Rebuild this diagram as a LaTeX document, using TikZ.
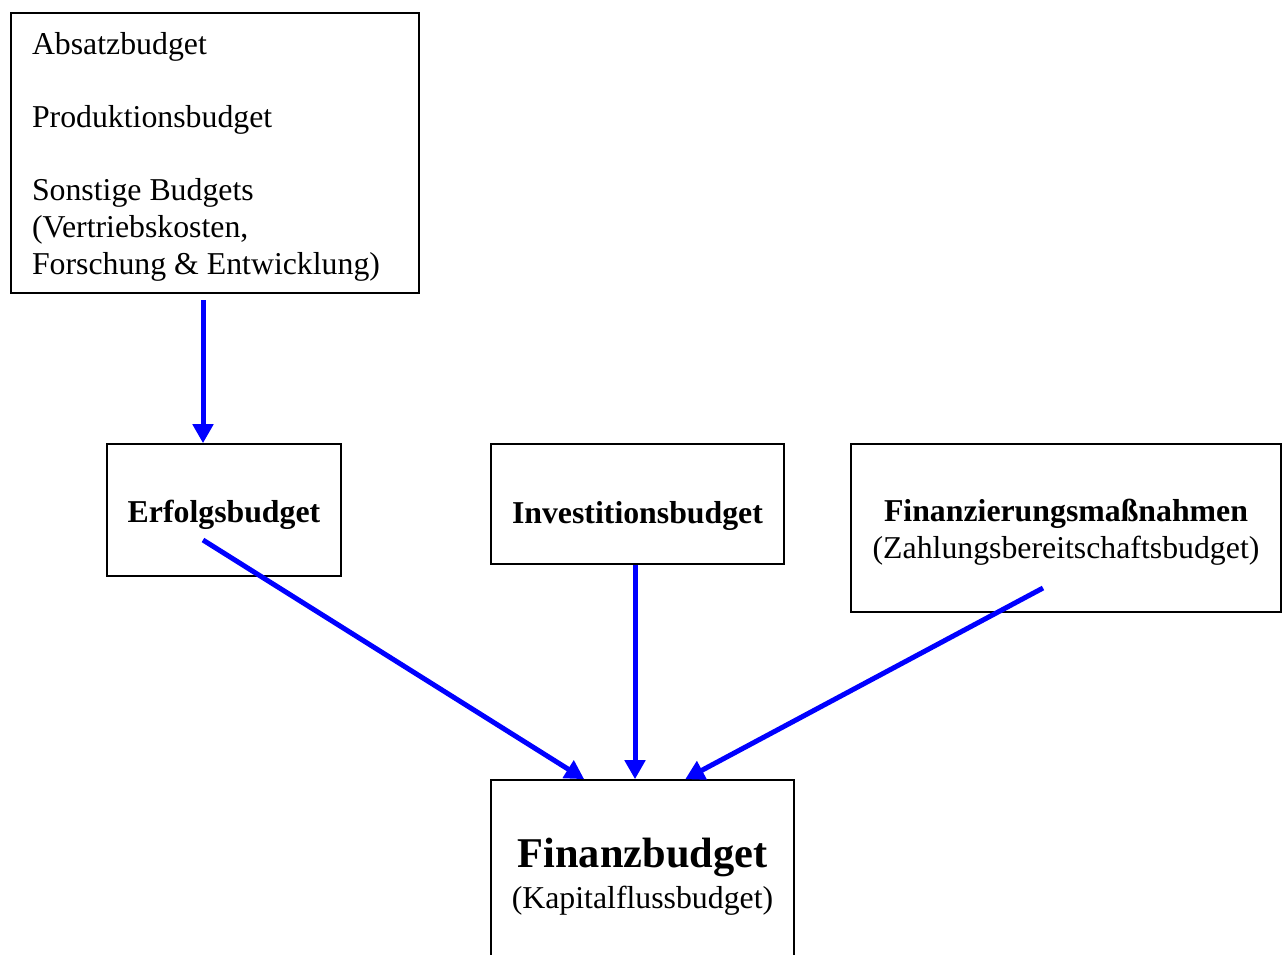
\documentclass[tikz,border=0pt]{standalone}
\usepackage{fontspec}
\setmainfont{Liberation Serif}
\usetikzlibrary{arrows.meta,calc}
\definecolor{arrowblue}{RGB}{0,0,255}
\tikzset{
  budgetbox/.style={draw=black, line width=1.6pt, rectangle, inner sep=0pt,
    font=\fontsize{31.8}{36.6}\selectfont},
  flow/.style={draw=arrowblue, line width=5pt,
    -{Triangle[length=19pt,width=20pt]}, shorten >=0pt}
}
% place a text block with its first baseline at a given offset from the box centre
\newcommand{\atbase}[2]{\raisebox{#1}[0pt][0pt]{#2}}
\begin{document}
\begin{tikzpicture}[x=1pt,y=-1pt]
\useasboundingbox (0,0) rectangle (1283,954);
\clip (0,0) rectangle (1283,954);

% source budgets
\node[budgetbox, minimum width=408pt, minimum height=280pt] (src) at (215,153)
  {\atbase{98.5pt}{\parbox[t]{366pt}{\raggedright
    Absatzbudget\\[36.6pt] Produktionsbudget\\[36.6pt] Sonstige Budgets\\
    (Vertriebskosten,\\ Forschung \& Entwicklung)}}};

% middle row
\node[budgetbox, minimum width=234pt, minimum height=132pt] (erf) at (224,510)
  {\atbase{-12.3pt}{\textbf{Erfolgsbudget}}};
\node[budgetbox, minimum width=293pt, minimum height=120pt] (inv) at (637.5,504)
  {\atbase{-19pt}{\textbf{Investitionsbudget}}};
\node[budgetbox, minimum width=430pt, minimum height=168pt] (fm) at (1066,528)
  {\atbase{6.5pt}{\begin{tabular}[t]{@{}c@{}}\textbf{Finanzierungsmaßnahmen}\\(Zahlungsbereitschaftsbudget)\end{tabular}}};

% target budget
\node[budgetbox, minimum width=303pt, minimum height=194pt, align=center] (fin) at (642.5,877)
  {{\fontsize{42.4}{44}\selectfont\textbf{Finanzbudget}}\\[4pt](Kapitalflussbudget)};

% connector start points inside / below the boxes
\coordinate (s1) at (203,300);
\coordinate (s2) at (203,540);
\coordinate (s3) at (635,565);
\coordinate (s4) at (1043,588);
\coordinate (t2) at ($(fin.north west)+(94,0)$);
\coordinate (t4) at ($(fin.north west)+(195,0)$);

\draw[flow] (s1) -- (s1 |- erf.north);
\draw[flow] (s2) -- (t2);
\draw[flow] (s3) -- (s3 |- fin.north);
\draw[flow] (s4) -- (t4);
\end{tikzpicture}
\end{document}
